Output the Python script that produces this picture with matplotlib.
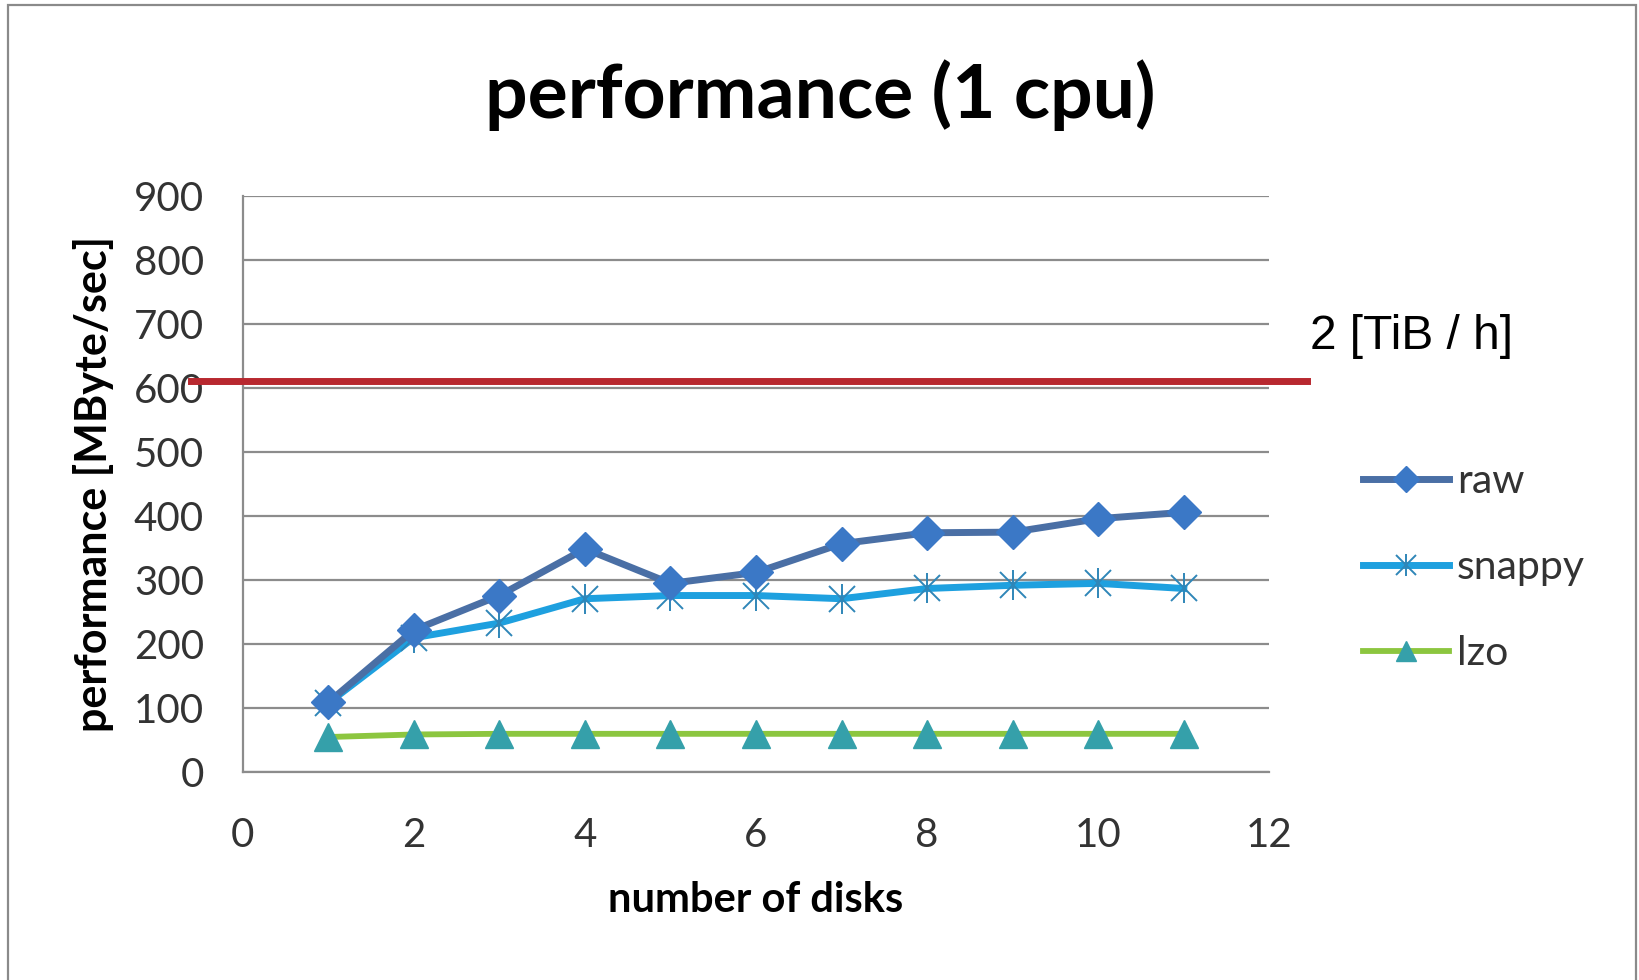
import matplotlib.pyplot as plt
from matplotlib.patches import Rectangle

# dados
discos = [1, 2, 3, 4, 5, 6, 7, 8, 9, 10, 11]
raw = [109, 222, 276, 349, 295, 312, 357, 374, 375, 396, 406]
snappy = [108, 210, 233, 271, 276, 276, 271, 287, 292, 295, 287]
lzo = [55, 59, 60, 60, 60, 60, 60, 60, 60, 60, 60]
limite = 610.8  # 2 TiB/h em MByte/s
limite_label = '2 [TiB / h]'

plt.rcParams['font.family'] = ['Lato', 'DejaVu Sans']

fig = plt.figure(figsize=(16.4, 9.8), dpi=100)
ax = fig.add_axes([0.148, 0.212, 0.626, 0.588])

# moldura externa
fig.patches.append(Rectangle((8 / 1640, -0.02), 1628 / 1640, 1.02 - 5 / 980,
                             transform=fig.transFigure, fill=False,
                             edgecolor='#8a8a8a', linewidth=1.6))

l_raw, = ax.plot(discos, raw, color='#4a6fa5', lw=5, marker='D', ms=17,
                 mfc='#3b78c6', mec='#3b78c6', zorder=5, label='raw')
l_snap, = ax.plot(discos, snappy, color='#1ea0df', lw=5, marker='x', ms=19,
                  mew=1.4, mec='#2f86b8', zorder=4, label='snappy')
l_snap2, = ax.plot(discos, snappy, ls='none', marker='|', ms=22, mew=1.4,
                   mec='#2f86b8', zorder=4)
l_lzo, = ax.plot(discos, lzo, color='#8cc63f', lw=4.2, marker='^', ms=20,
                 mfc='#35a0aa', mec='#35a0aa', zorder=3, label='lzo')

# linha de 2 TiB/h
ax.axhline(limite, xmin=-0.05, xmax=1.037, color='#b8282f', lw=5,
           clip_on=False, zorder=6)
ax.text(1.04, limite + 70, limite_label, transform=ax.get_yaxis_transform(),
        family='Liberation Sans', fontsize=34.5, color='black', va='center')

ax.set_xlim(0, 12)
ax.set_ylim(0, 900)
ax.set_xticks(range(0, 13, 2))
ax.set_yticks(range(0, 901, 100))
ax.grid(axis='y', color='#8c8c8c', lw=1.6)
ax.set_axisbelow(True)
for s in ['top', 'right']:
    ax.spines[s].set_visible(False)
for s in ['left', 'bottom']:
    ax.spines[s].set_color('#8c8c8c')
    ax.spines[s].set_linewidth(1.6)
ax.tick_params(length=0, labelsize=29, labelcolor='#333333')
ax.tick_params(axis='x', pad=32)
ax.tick_params(axis='y', pad=28)

fig.suptitle('performance (1 cpu)', fontsize=54, fontweight='bold',
             x=0.5, y=0.94)
ax.set_xlabel('number of disks', fontsize=30, fontweight='bold', labelpad=20)
ax.set_ylabel('performance [MByte/sec]', fontsize=31, fontweight='bold',
              labelpad=14)

ax.legend([l_raw, (l_snap, l_snap2), l_lzo], ['raw', 'snappy', 'lzo'],
          loc='center left', bbox_to_anchor=(1.055, 0.355), frameon=False,
          fontsize=29.5, labelcolor='#333333', handlelength=2.1,
          handletextpad=0.2, labelspacing=1.2, markerscale=0.75)

fig.savefig('out.png', dpi=100)
